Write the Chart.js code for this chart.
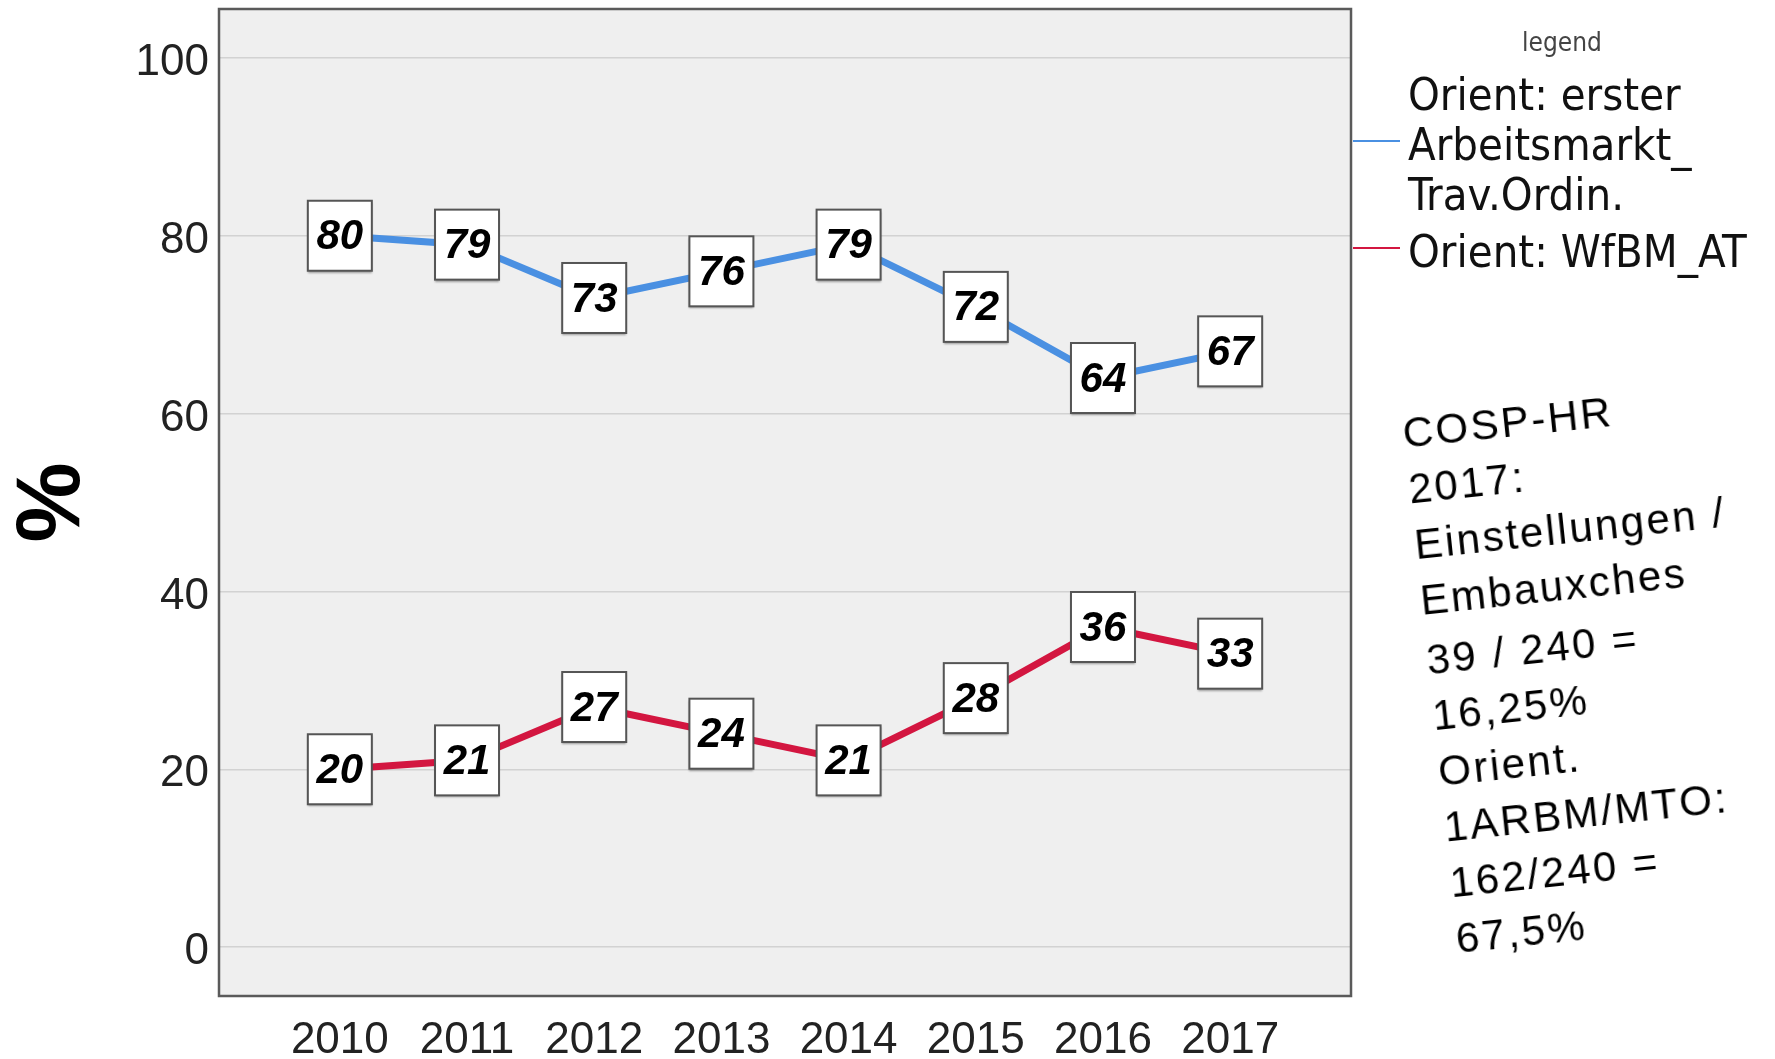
<!DOCTYPE html>
<html>
<head>
<meta charset="utf-8">
<script src="https://cdn.jsdelivr.net/npm/chart.js@4.4.1/dist/chart.umd.min.js"></script>
<style>
  body { margin: 0; background: #fff; overflow: hidden; }
  #wrap { position: relative; width: 1775px; height: 1059px; }
  #note {
    position: absolute; left: 1400px; top: 406px;
    transform: rotate(-6deg); transform-origin: 0 0;
    font: 42px "Liberation Sans", Arial, sans-serif;
    letter-spacing: 2.5px; line-height: 56px; color: #000; white-space: nowrap;
  }
  #note .gap { margin-top: 4px; }
</style>
</head>
<body>
<div id="wrap">
  <canvas id="lineChart" width="1775" height="1059"></canvas>
  <div id="note"></div>
</div>
<script>
document.addEventListener('DOMContentLoaded', function () {

    const years = [2010, 2011, 2012, 2013, 2014, 2015, 2016, 2017];
    const ersterArbeitsmarkt = [80, 79, 73, 76, 79, 72, 64, 67];
    const wfbmAT = [20, 21, 27, 24, 21, 28, 36, 33];
    const yTicks = [0, 20, 40, 60, 80, 100];
    const noteLines = ['COSP-HR', '2017:', 'Einstellungen /', 'Embauxches',
        '39 / 240 =', '16,25%', 'Orient.', '1ARBM/MTO:', '162/240 =', '67,5%'];

    const note = document.getElementById('note');
    noteLines.forEach(function (t, i) {
        const d = document.createElement('div');
        d.textContent = t;
        if (i === 4) d.className = 'gap';
        note.appendChild(d);
    });

    const tickFont = { family: '"Liberation Sans", Arial, sans-serif', size: 44 };

    // grey plot area + frame
    const plotFrame = {
        id: 'plotFrame',
        beforeDraw(chart) {
            const a = chart.chartArea, ctx = chart.ctx;
            ctx.save();
            ctx.fillStyle = '#efefef';
            ctx.fillRect(a.left, a.top, a.right - a.left, a.bottom - a.top);
            ctx.restore();
        },
        afterDraw(chart) {
            const a = chart.chartArea, ctx = chart.ctx;
            ctx.save();
            ctx.strokeStyle = '#5a5a5a';
            ctx.lineWidth = 2.5;
            ctx.strokeRect(a.left, a.top, a.right - a.left, a.bottom - a.top);
            ctx.restore();
        }
    };

    // boxed value labels on each point
    const boxLabels = {
        id: 'boxLabels',
        afterDatasetsDraw(chart) {
            const ctx = chart.ctx;
            chart.data.datasets.forEach(function (ds, i) {
                chart.getDatasetMeta(i).data.forEach(function (pt, j) {
                    const w = 64, h = 70;
                    ctx.save();
                    ctx.shadowColor = 'rgba(0,0,0,0.35)';
                    ctx.shadowOffsetY = 2;
                    ctx.shadowBlur = 2;
                    ctx.fillStyle = '#fff';
                    ctx.fillRect(pt.x - w / 2, pt.y - h / 2, w, h);
                    ctx.shadowColor = 'transparent';
                    ctx.strokeStyle = '#555';
                    ctx.lineWidth = 2;
                    ctx.strokeRect(pt.x - w / 2, pt.y - h / 2, w, h);
                    ctx.fillStyle = '#000';
                    ctx.font = 'italic bold 42px "Liberation Sans", Arial, sans-serif';
                    ctx.textAlign = 'center';
                    ctx.textBaseline = 'middle';
                    ctx.fillText(String(ds.data[j].y), pt.x, pt.y + 2);
                    ctx.restore();
                });
            });
        }
    };

    // legend on the right, with multi-line labels
    const sideLegend = {
        id: 'sideLegend',
        afterDraw(chart) {
            const ctx = chart.ctx, a = chart.chartArea;
            ctx.save();
            ctx.fillStyle = '#444';
            ctx.font = '26px "DejaVu Sans Condensed", "DejaVu Sans", sans-serif';
            ctx.textAlign = 'center';
            ctx.textBaseline = 'middle';
            ctx.fillText('legend', 1562, 44);

            ctx.font = '45px "DejaVu Sans Condensed", "DejaVu Sans", sans-serif';
            ctx.textAlign = 'left';
            let y = 98;
            chart.data.datasets.forEach(function (ds) {
                const lines = Array.isArray(ds.label) ? ds.label : [ds.label];
                const first = y;
                ctx.fillStyle = '#111';
                lines.forEach(function (t) {
                    ctx.fillText(t, 1408, y);
                    y += 50;
                });
                const mid = (first + y - 50) / 2 - 7;
                ctx.strokeStyle = ds.borderColor;
                ctx.lineWidth = 2;
                ctx.beginPath();
                ctx.moveTo(a.right + 2, mid);
                ctx.lineTo(1400, mid);
                ctx.stroke();
                y += 7;
            });
            ctx.restore();
        }
    };

    const ctxLine = document.getElementById('lineChart').getContext('2d');
    const lineChart = new Chart(ctxLine, {
        type: 'line',
        data: {
            datasets: [{
                label: ['Orient: erster', 'Arbeitsmarkt_', 'Trav.Ordin.'],
                data: years.map((x, i) => ({ x: x, y: ersterArbeitsmarkt[i] })),
                borderColor: '#4a90e2',
                borderWidth: 7,
                pointRadius: 0,
                tension: 0
            }, {
                label: 'Orient: WfBM_AT',
                data: years.map((x, i) => ({ x: x, y: wfbmAT[i] })),
                borderColor: '#d31640',
                borderWidth: 7,
                pointRadius: 0,
                tension: 0
            }]
        },
        options: {
            responsive: false,
            animation: false,
            layout: { padding: { top: 9, right: 424, left: 0, bottom: 0 } },
            plugins: {
                legend: { display: false },
                tooltip: { enabled: false }
            },
            scales: {
                x: {
                    type: 'linear',
                    min: years[0] - 0.95,
                    max: years[years.length - 1] + 0.95,
                    afterBuildTicks: s => { s.ticks = years.map(v => ({ value: v })); },
                    afterFit: s => { s.height = 63; s.paddingLeft = 0; s.paddingRight = 0; },
                    grid: { display: false },
                    border: { display: false },
                    ticks: {
                        font: tickFont, color: '#222', padding: 10,
                        maxRotation: 0, autoSkip: false,
                        callback: v => String(v)
                    }
                },
                y: {
                    min: -5.5,
                    max: 105.5,
                    afterBuildTicks: s => { s.ticks = yTicks.map(v => ({ value: v })); },
                    afterFit: s => { s.width = 219; s.paddingTop = 0; s.paddingBottom = 0; },
                    grid: { color: '#d2d2d2', lineWidth: 1.5, drawTicks: false },
                    border: { display: false },
                    ticks: { font: tickFont, color: '#222', padding: 10, labelOffset: 5 },
                    title: {
                        display: true,
                        text: '%',
                        color: '#000',
                        padding: 0,
                        font: { family: '"Liberation Sans", Arial, sans-serif', size: 90, weight: 'bold' }
                    }
                }
            }
        },
        plugins: [plotFrame, boxLabels, sideLegend]
    });

});
</script>
</body>
</html>
